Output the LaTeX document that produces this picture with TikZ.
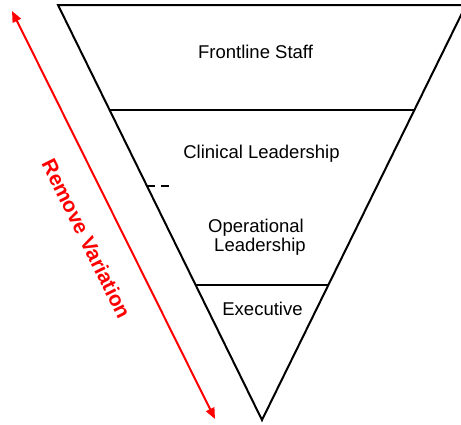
\documentclass[tikz,border=0pt]{standalone}
\usepackage{fontspec}
\setmainfont{Liberation Sans}
\usetikzlibrary{arrows.meta}
\definecolor{varred}{RGB}{255,0,0}
\tikzset{
  tier/.style={line width=2pt, draw=black},
  tierlabel/.style={inner sep=0pt, anchor=base, font=\fontsize{18.5}{18.5}\selectfont, align=center},
  spread/.style={line width=2pt, draw=varred, {Triangle[length=11pt,width=9pt]}-{Triangle[length=11pt,width=9pt]}},
}
\begin{document}
\begin{tikzpicture}[x=1pt,y=-1pt]
  \useasboundingbox (0,0) rectangle (461,424);
  \clip (0,0) rectangle (461,424);
  % inverted triangle and its tiers
  \coordinate (tl) at (58,5);
  \coordinate (tr) at (466,5);
  \coordinate (apex) at (262,420);
  \draw[tier, line join=miter] (tl) -- (tr) -- (apex) -- cycle;
  \draw[tier] (109.6,110) -- (414.4,110);
  \draw[tier] (195.6,285) -- (328.4,285);
  % short dashed mark on the left edge
  \draw[line width=1.5pt, dash pattern=on 8pt off 6pt] (147,186) -- (171,186);
  % tier labels
  \node[tierlabel] (front) at (255.5,58) {Frontline Staff};
  \node[tierlabel] (clin) at (261.5,158) {Clinical Leadership};
  \node[tierlabel] (oper1) at (256,232.5) {Operational};
  \node[tierlabel] (oper2) at (260,251) {Leadership};
  \node[tierlabel] (exec) at (262.5,315) {Executive};
  % variation arrow
  \coordinate (vtop) at (12,11);
  \coordinate (vbot) at (215,419);
  \draw[spread] (vtop) -- (vbot);
  \node[text=varred, inner sep=0pt, rotate=-63.66, font=\bfseries\fontsize{20.8}{20.8}\selectfont] (var) at (86.5,238.5) {Remove Variation};
\end{tikzpicture}
\end{document}
